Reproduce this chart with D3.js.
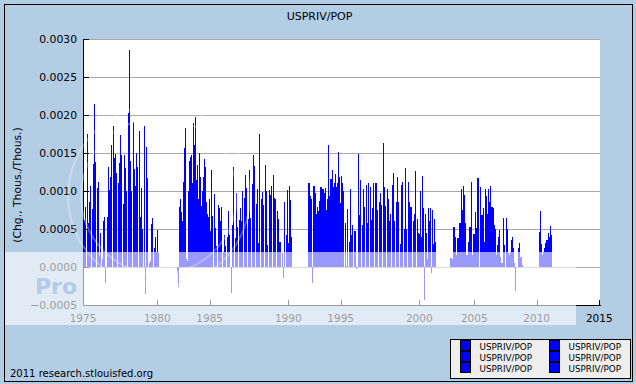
<!DOCTYPE html>
<html>
<head>
<meta charset="utf-8">
<script src="https://cdn.jsdelivr.net/npm/d3@7"></script>
<style>
  body { margin: 0; background: #b3cde5; }
  text { font-family: "DejaVu Sans", Verdana, sans-serif; }
</style>
</head>
<body>
<svg id="chart" width="636" height="384"></svg>
<script>
// tick labels on the two axes
const yTicks = [-0.0005, 0.0000, 0.0005, 0.0010, 0.0015, 0.0020, 0.0025, 0.0030];
const xTickYears = [1975, 1980, 1985, 1990, 1995, 2000, 2005, 2010, 2015];

// first month of each run of monthly bars
const runStarts = ["1975-01", "1981-11", "1991-11", "2002-11", "2010-03"];

// monthly values, Chg., Thous./Thous.
const run1975 = [-0.00028, 0.00062, 0.00079, 0.00175, 0.00058, 0.00085, 0.00106, 0.00076, 0.00135, 0.00214,
  0.00138, 0.00104, 0.00112, 0.00014, 0.00045, 0.00010, 0.00060, 0.00066, -0.00021, 0.00066,
  0.00132, 0.00101, 0.00119, 0.00160, 0.00186, 0.00143, 0.00149, 0.00124, 0.00110, 0.00137,
  0.00174, 0.00147, 0.00083, 0.00148, 0.00130, 0.00100, 0.00203, 0.00286, 0.00140, 0.00100,
  0.00191, 0.00129, 0.00106, 0.00150, 0.00132, 0.00179, 0.00066, 0.00104, 0.00050, 0.00186,
  -0.00035, 0.00158, 0.00117, 0.00005, 0.00008, 0.00057, 0.00065, 0.00025, 0.00039, 0.00020,
  0.00049, 0.00019];

const run1981 = [-0.00008, 0, -0.00026, 0.00079, 0.00090, 0.00072, 0.00060, 0.00112, 0.00156, 0.00130,
  0.00183, 0.00010, 0.00008, 0.00100, 0.00140, 0.00120, 0.00145, 0.00147, 0.00110, 0.00190,
  0.00160, 0.00197, 0.00114, 0.00100, 0.00134, 0.00090, 0.00150, 0.00119, 0.00080, 0.00100,
  0.00119, 0.00142, 0.00114, 0.00132, 0.00085, 0.00070, 0.00066, 0.00090, 0.00048, 0.00127,
  0.00067, 0.00096, 0.00051, 0.00028, 0.00082, 0.00077, 0.00060, 0.00079, 0.00020, 0.00042,
  0.00027, 0.00040, 0.00074, 0.00042, -0.00034, 0.00055, 0.00132, 0.00038, 0.00097, 0.00053,
  0.00062, 0.00078, 0.00061, 0.00100, 0.00091, 0.00121, 0.00104, 0.00063, 0.00128, 0.00064,
  0.00109, 0.00147, 0.00133, 0.00083, 0.00102, 0.00032, 0.00175, 0.00090, 0.00099, 0.00082,
  0.00134, 0.00100, 0.00029, 0.00101, 0.00095, 0.00107, 0.00121, 0.00091, 0.00089, 0.00074,
  0.00063, 0.00033, 0.00033, 0.00019, -0.00015, 0.00086, 0.00042, 0.00101, 0.00032, 0.00107,
  0.00088, 0.00040];

const run1991 = [0.00067, 0.00110, 0.00110, 0.00093, 0.00090, -0.00021, 0.00107, 0.00107, 0.00097, 0.00060,
  0.00070, 0.00079, 0.00074, 0.00087, 0.00105, 0.00105, 0.00088, 0.00103, 0.00103, 0.00098,
  0.00104, 0.00075, 0.00090, 0.00160, 0.00122, 0.00093, 0.00116, 0.00116, 0.00128, 0.00105,
  0.00110, 0.00076, 0.00122, 0.00105, 0.00110, 0.00151, 0.00118, 0.00084, 0.00120, 0.00110,
  0.00100, 0.00058, 0.00001, 0.00076, 0.00033, 0.00103, 0.00042, 0.00055, 0.00048, 0.00048,
  -0.00002, 0.00149, 0.00068, 0.00114, 0.00055, 0.00103, 0.00079, 0.00108, 0.00058, 0.00110,
  0.00105, 0.00062, 0.00077, 0.00110, 0.00111, 0.00110, 0.00075, 0.00085, 0.00098, 0.00082,
  0.00163, 0.00105, 0.00080, 0.00103, 0.00090, 0.00060, 0.00070, 0.00108, 0.00124, 0.00060,
  0.00085, 0.00119, 0.00085, 0.00030, 0.00108, 0.00112, 0.00050, 0.00130, 0.00050, 0.00112,
  0.00085, 0.00079, 0.00079, 0.00060, 0.00070, 0.00126, 0.00063, 0.00045, 0.00043, 0.00100,
  0.00040, 0.00120, 0.00077, -0.00043, 0.00070, 0.00045, 0.00010, 0.00015, 0.00077, 0.00060,
  0.00078, -0.00008, 0.00075, 0.00030, 0.00063, 0.00033];

const run2002 = [0.00012, 0.00012, 0.00010, 0.00053, 0.00053, 0.00040, 0.00016, 0.00038, 0.00038, 0.00058,
  0.00058, 0.00102, 0.00090, 0.00075, 0.00106, 0.00095, 0.00058, 0.00016, 0.00016, 0.00033,
  0.00053, 0.00053, 0.00112, 0.00016, 0.00016, 0.00044, 0.00044, 0.00073, 0.00051, 0.00117,
  0.00117, 0.00105, 0.00068, 0.00068, 0.00077, 0.00033, 0.00102, 0.00093, 0.00070, 0.00102,
  0.00085, 0.00106, 0.00079, 0.00079, 0.00077, 0.00055, 0.00050, 0.00016, 0.00029, 0.00040,
  0.00049, 0.00013, 0.00005, 0.00005, 0.00064, 0.00029, 0.00064, 0.00050, 0.00018, 0.00016,
  0.00020, 0.00036, 0.00040, 0.00025, 0.00005, -0.00032, 0, 0, 0.00025, 0.00032,
  0.00013, 0.00013, 0.00002];

const run2010 = [0.00046, 0.00074, 0.00030, 0.00016, 0.00020, 0.00025, 0.00032, 0.00035, 0.00035, 0.00045,
  0.00040, 0.00054, 0.00042];

const runs = [run1975, run1981, run1991, run2002, run2010];

const seriesName = "USPRIV/POP";
const legendLabels = d3.range(6).map(() => seriesName);

const W = 636, H = 384;
const margin = {top: 39, right: 36, bottom: 79, left: 83};
const plotW = W - margin.left - margin.right;   // 517
const plotH = H - margin.top - margin.bottom;   // 266

const svg = d3.select("#chart");

// the FRED axis puts its year ticks at uneven spacings, so the scale is piecewise
const x = d3.scaleLinear()
    .domain(xTickYears)
    .range([0, 74.3, 126.7, 205.3, 257.7, 336.3, 391.3, 453.7, 516.3].map(v => v + margin.left));
const y = d3.scaleLinear()
    .domain([-0.0005, 0.0030])
    .range([margin.top + plotH, margin.top]);

// background and frame
svg.append("rect").attr("width", W).attr("height", H).attr("fill", "#b3cde5");
svg.append("rect").attr("x", 4.5).attr("y", 4.5).attr("width", 628).attr("height", 377)
    .attr("fill", "none").attr("stroke", "#000");

svg.append("rect")
    .attr("x", margin.left).attr("y", margin.top)
    .attr("width", plotW).attr("height", plotH)
    .attr("fill", "#fff");

// grid lines
svg.append("g").selectAll("line").data(yTicks.slice(1))
  .join("line")
    .attr("x1", margin.left).attr("x2", margin.left + plotW)
    .attr("y1", d => Math.round(y(d)) + 0.5).attr("y2", d => Math.round(y(d)) + 0.5)
    .attr("stroke", "#a8a8a8");

// bars, one per month
let bars = [];
runs.forEach((vals, r) => {
  let [yr, mo] = runStarts[r].split("-").map(Number);
  vals.forEach((v, i) => {
    bars.push({t: yr + (mo - 1 + i) / 12, v: v});
  });
});

svg.append("g")
    .attr("shape-rendering", "crispEdges")
  .selectAll("rect").data(bars.filter(d => d.v !== 0))
  .join("rect")
    .attr("x", d => Math.round(x(d.t)))
    .attr("width", 1)
    .attr("y", d => Math.round(y(Math.max(d.v, 0))))
    .attr("height", d => Math.max(1, Math.round(Math.abs(y(d.v) - y(0)))))
    .attr("fill", "#0000ff");

// axes
const axes = svg.append("g").attr("stroke", "#000");
axes.append("line")
    .attr("x1", margin.left + 0.5).attr("x2", margin.left + 0.5)
    .attr("y1", margin.top).attr("y2", margin.top + plotH);
axes.append("line")
    .attr("x1", margin.left).attr("x2", margin.left + plotW + 1)
    .attr("y1", margin.top + plotH + 0.5).attr("y2", margin.top + plotH + 0.5);
axes.selectAll(".yt").data(yTicks.slice(1)).join("line")
    .attr("x1", margin.left).attr("x2", margin.left + 6)
    .attr("y1", d => Math.round(y(d)) + 0.5).attr("y2", d => Math.round(y(d)) + 0.5);
axes.selectAll(".xt").data(xTickYears).join("line")
    .attr("x1", d => Math.round(x(d)) + 0.5).attr("x2", d => Math.round(x(d)) + 0.5)
    .attr("y1", margin.top + plotH).attr("y2", margin.top + plotH - 5);

// tick labels
svg.append("g").selectAll("text").data(yTicks)
  .join("text")
    .attr("x", margin.left - 6)
    .attr("y", d => y(d) + 4)
    .attr("text-anchor", "end")
    .attr("font-size", 10.8)
    .text(d => d3.format(".4f")(d));

svg.append("g").selectAll("text").data(xTickYears)
  .join("text")
    .attr("x", d => x(d))
    .attr("y", 322)
    .attr("text-anchor", "middle")
    .attr("font-size", 10.5)
    .text(d => d);

// titles
svg.append("text")
    .attr("x", 319.5).attr("y", 20)
    .attr("text-anchor", "middle")
    .attr("font-size", 11)
    .text(seriesName);

svg.append("text")
    .attr("transform", "translate(21,185) rotate(-90)")
    .attr("text-anchor", "middle")
    .attr("font-size", 10.8)
    .text("(Chg., Thous./Thous.)");

svg.append("text")
    .attr("x", 10).attr("y", 377)
    .attr("font-size", 10)
    .text("2011 research.stlouisfed.org");

// legend
const legend = svg.append("g");
legend.append("rect")
    .attr("x", 450.5).attr("y", 339.5).attr("width", 180).attr("height", 39)
    .attr("fill", "#eeeeee").attr("stroke", "#000");
const item = legend.selectAll("g").data(legendLabels).join("g")
    .attr("transform", (d, i) => `translate(${460.5 + Math.floor(i / 3) * 89},${340.5 + (i % 3) * 11})`);
item.append("rect")
    .attr("width", 10).attr("height", 10)
    .attr("fill", "#0000ff").attr("stroke", "#000");
item.append("text")
    .attr("x", 19).attr("y", 9.5)
    .attr("font-size", 8.8)
    .text(d => d);

// photo-host watermark lying over the picture
svg.append("clipPath").attr("id", "wmclip")
  .append("rect").attr("x", 5).attr("y", 252).attr("width", 78).attr("height", 73);
const wm = svg.append("g");
wm.append("rect")
    .attr("x", 5).attr("y", 252).attr("width", 571).attr("height", 73)
    .attr("fill", "#fff").attr("opacity", 0.6);
wm.append("text")
    .attr("x", 35).attr("y", 294)
    .attr("font-family", "Liberation Sans, Arial, sans-serif")
    .attr("font-size", 22).attr("font-weight", "bold")
    .attr("fill", "#b2cce8")
    .attr("clip-path", "url(#wmclip)")
    .text("Pro");
[91, 78].forEach(r => {
  wm.append("circle")
    .attr("cx", 159).attr("cy", 196).attr("r", r)
    .attr("fill", "none").attr("stroke", "#fff")
    .attr("stroke-width", 2).attr("opacity", 0.3);
});
</script>
</body>
</html>
